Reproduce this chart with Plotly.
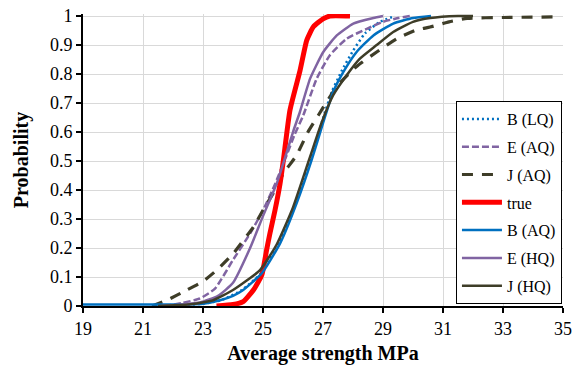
import plotly.graph_objects as go

# ---- data ----
b_lq_x = [21.5, 23.0, 23.6, 24.3, 24.95, 25.55, 26.1, 26.6, 26.98, 27.3, 27.62, 28.0, 28.4, 28.9, 29.4]
b_lq_y = [0.0, 0.008, 0.02, 0.055, 0.115, 0.22, 0.36, 0.51, 0.64, 0.74, 0.81, 0.88, 0.94, 0.98, 1.0]

e_aq_x = [21.7, 22.3, 22.9, 23.4, 24.0, 24.57, 25.0, 25.4, 25.75, 26.05, 26.34, 26.79, 27.23, 27.79, 28.46, 29.0, 29.5, 29.9]
e_aq_y = [0.0, 0.01, 0.026, 0.06, 0.159, 0.25, 0.33, 0.42, 0.51, 0.59, 0.657, 0.784, 0.865, 0.922, 0.956, 0.98, 0.993, 1.0]

j_aq_x = [21.3, 21.8, 22.46, 23.0, 23.46, 24.0, 24.68, 25.0, 25.34, 25.68, 26.12, 26.5, 26.84, 27.46, 28.12, 28.79, 29.46, 30.12, 30.57, 31.2, 31.8, 33.0, 34.8]
j_aq_y = [0.0, 0.02, 0.055, 0.085, 0.124, 0.18, 0.273, 0.33, 0.389, 0.457, 0.52, 0.6, 0.657, 0.757, 0.826, 0.876, 0.922, 0.952, 0.962, 0.98, 0.992, 0.995, 0.997]

true_x = [23.45, 24.0, 24.34, 24.68, 24.96, 25.12, 25.23, 25.4, 25.57, 25.68, 25.9, 26.23, 26.46, 26.68, 27.0, 27.23, 27.9]
true_y = [0.0, 0.005, 0.015, 0.055, 0.107, 0.193, 0.25, 0.33, 0.423, 0.503, 0.676, 0.81, 0.917, 0.963, 0.99, 1.0, 1.0]

b_aq_x = [19, 22, 23, 23.57, 24.0, 24.34, 24.96, 25.57, 26.12, 26.62, 27.01, 27.34, 27.68, 28.12, 28.68, 29.34, 30.0, 30.6]
b_aq_y = [0.005, 0.005, 0.008, 0.02, 0.035, 0.055, 0.113, 0.216, 0.354, 0.503, 0.634, 0.738, 0.807, 0.876, 0.933, 0.974, 0.993, 1.0]

e_hq_x = [21.6, 22.3, 22.9, 23.5, 24.0, 24.57, 25.0, 25.46, 25.7, 26.0, 26.23, 26.57, 27.01, 27.46, 28.01, 28.68, 29.0]
e_hq_y = [0.0, 0.005, 0.012, 0.035, 0.08, 0.2, 0.31, 0.423, 0.5, 0.6, 0.669, 0.784, 0.876, 0.933, 0.974, 0.993, 1.0]

j_hq_x = [21.5, 22.5, 23.34, 24.0, 24.9, 25.46, 26.0, 26.57, 26.96, 27.34, 27.79, 28.23, 28.79, 29.34, 30.0, 30.57, 31.5, 32.0]
j_hq_y = [0.0, 0.005, 0.02, 0.055, 0.124, 0.213, 0.34, 0.515, 0.634, 0.727, 0.796, 0.853, 0.90, 0.945, 0.98, 0.993, 1.0, 1.0]

x_ticks = [19, 21, 23, 25, 27, 29, 31, 33, 35]
y_ticks = [0, 0.1, 0.2, 0.3, 0.4, 0.5, 0.6, 0.7, 0.8, 0.9, 1]
y_tick_text = ["0", "0.1", "0.2", "0.3", "0.4", "0.5", "0.6", "0.7", "0.8", "0.9", "1"]

BLUE = "#0070C0"
PURPLE = "#8064A2"
OLIVE = "#3E3D28"
RED = "#FF0000"

series = [
    ("B (LQ)", b_lq_x, b_lq_y, BLUE, 2.5, "2px,3px"),
    ("E (AQ)", e_aq_x, e_aq_y, PURPLE, 2.5, "7px,3px"),
    ("J (AQ)", j_aq_x, j_aq_y, OLIVE, 3.2, "11px,9px"),
    ("true", true_x, true_y, RED, 5, "solid"),
    ("B (AQ)", b_aq_x, b_aq_y, BLUE, 2.5, "solid"),
    ("E (HQ)", e_hq_x, e_hq_y, PURPLE, 2.5, "solid"),
    ("J (HQ)", j_hq_x, j_hq_y, OLIVE, 2.5, "solid"),
]

fig = go.Figure()
for name, xs, ys, col, w, dash in series:
    fig.add_trace(go.Scatter(
        x=xs, y=ys, name=name, mode="lines", legendgroup=name,
        line=dict(color=col, width=w, dash=dash, shape="spline", smoothing=0.5),
    ))

FONT = "Liberation Serif, Times New Roman, serif"

fig.update_layout(
    width=583, height=367,
    margin=dict(l=83, r=20, t=14, b=61),
    paper_bgcolor="white", plot_bgcolor="white",
    font=dict(family=FONT, size=17, color="black"),
    showlegend=True,
    legend=dict(
        x=0.777, y=0.702, xanchor="left", yanchor="top",
        bgcolor="white", bordercolor="black", borderwidth=1,
        font=dict(family=FONT, size=16, color="black"),
        tracegroupgap=4, itemwidth=40,
    ),
    xaxis=dict(
        range=[19, 35], tickmode="array", tickvals=x_ticks,
        showgrid=True, gridcolor="#D9D9D9", gridwidth=1,
        showline=True, linecolor="black", linewidth=2,
        ticks="outside", ticklen=5, tickwidth=2, tickcolor="black",
        zeroline=False, automargin=False,
        tickfont=dict(family=FONT, size=18, color="black"),
        title=dict(text="<b>Average strength MPa</b>",
                   font=dict(family=FONT, size=20, color="black"), standoff=8),
    ),
    yaxis=dict(
        range=[0, 1.007], tickmode="array", tickvals=y_ticks, ticktext=y_tick_text,
        showgrid=True, gridcolor="#D9D9D9", gridwidth=1,
        showline=True, linecolor="black", linewidth=2,
        ticks="outside", ticklen=5, tickwidth=2, tickcolor="black",
        zeroline=False, automargin=False,
        tickfont=dict(family=FONT, size=18, color="black"),
        title=dict(text="<b>Probability</b>",
                   font=dict(family=FONT, size=20, color="black"), standoff=16),
    ),
)

fig.write_html("out.html", config={"displayModeBar": False},
               post_script="document.body.style.margin='0px';")
